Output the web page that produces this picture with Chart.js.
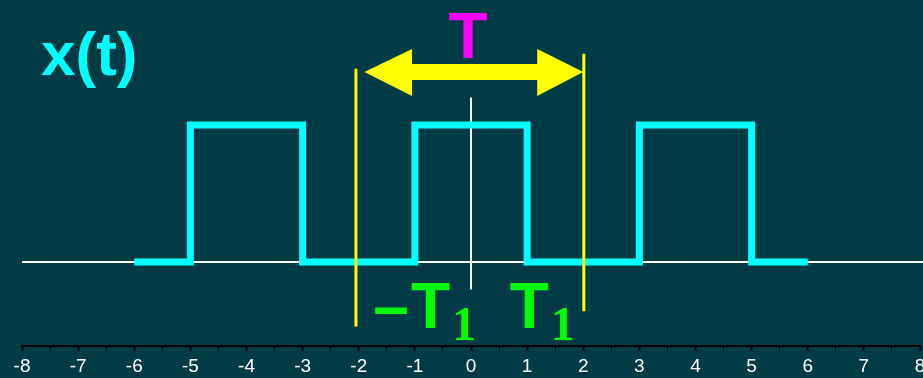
<!DOCTYPE html>
<html><head><meta charset="utf-8">
<script src="https://cdn.jsdelivr.net/npm/chart.js@4/dist/chart.umd.min.js"></script>
<style>html,body{margin:0;padding:0;background:#013b45;overflow:hidden}#wrap{width:923px;height:378px}</style>
</head><body><div id="wrap"><canvas id="c" width="923" height="378"></canvas></div>
<script>
// ---- data ----
const tickValues = [-8,-7,-6,-5,-4,-3,-2,-1,0,1,2,3,4,5,6,7,8];
const tickLabels = ['-8','-7','-6','-5','-4','-3','-2','-1','0','1','2','3','4','5','6','7','8'];
const waveX = [-6,-5,-5,-3,-3,-1,-1,1,1,3,3,5,5,6];
const waveY = [0,0,1,1,0,0,1,1,0,0,1,1,0,0];
const baselineX = [-8, 8.1];
const baselineY = [0, 0];
const originX = [0, 0];
const originY = [-0.2, 1.2];
const markLeftX = [-2.05, -2.05];
const markLeftY = [-0.47, 1.41];
const markRightX = [2.01, 2.01];
const markRightY = [-0.36, 1.52];
const arrowX = [-1.9,-1.05,-1.05,1.18,1.18,2.0,1.18,1.18,-1.05,-1.05];
const arrowY = [1.387,1.555,1.445,1.445,1.555,1.387,1.212,1.328,1.328,1.212];
const textItems = [
  {t:'x(t)', x:-7.66, y:1.365, c:'#00ffff', f:'bold 62px "Liberation Sans", Arial, sans-serif'},
  {t:'T', x:-0.40, y:1.49, c:'#ff00ff', f:'bold 64px "Liberation Sans", Arial, sans-serif'},
  {t:'\u2013', x:-1.74, y:-0.48, c:'#00ff00', f:'bold 64px "Liberation Sans", Arial, sans-serif'},
  {t:'T', x:-1.07, y:-0.48, c:'#00ff00', f:'bold 64px "Liberation Sans", Arial, sans-serif'},
  {t:'1', x:-0.34, y:-0.57, c:'#00ff00', f:'bold 48px "Liberation Serif", "Times New Roman", serif'},
  {t:'T', x:0.69, y:-0.48, c:'#00ff00', f:'bold 64px "Liberation Sans", Arial, sans-serif'},
  {t:'1', x:1.42, y:-0.57, c:'#00ff00', f:'bold 48px "Liberation Serif", "Times New Roman", serif'}
];
const zip = (xs, ys) => xs.map((x, i) => ({x, y: ys[i]}));

const bgPlugin = {
  id: 'bg',
  beforeDraw(chart) {
    const ctx = chart.ctx;
    ctx.save();
    ctx.fillStyle = '#013b45';
    ctx.fillRect(0, 0, chart.width, chart.height);
    ctx.restore();
  }
};
const overlayPlugin = {
  id: 'overlay',
  afterDatasetsDraw(chart) {
    const ctx = chart.ctx, xs = chart.scales.x, ys = chart.scales.y;
    ctx.save();
    ctx.fillStyle = '#ffff00';
    ctx.beginPath();
    arrowX.forEach((x, i) => {
      const px = xs.getPixelForValue(x), py = ys.getPixelForValue(arrowY[i]);
      if (i === 0) ctx.moveTo(px, py); else ctx.lineTo(px, py);
    });
    ctx.closePath();
    ctx.fill();
    ctx.textBaseline = 'alphabetic';
    ctx.textAlign = 'left';
    textItems.forEach(it => {
      ctx.font = it.f;
      ctx.fillStyle = it.c;
      ctx.fillText(it.t, xs.getPixelForValue(it.x), ys.getPixelForValue(it.y));
    });
    ctx.restore();
  }
};

new Chart(document.getElementById('c'), {
  type: 'scatter',
  data: {
    datasets: [
      {data: zip(markLeftX, markLeftY), showLine: true, borderColor: '#ffff00', borderWidth: 3, pointRadius: 0, order: 0, borderCapStyle: 'butt'},
      {data: zip(markRightX, markRightY), showLine: true, borderColor: '#ffff00', borderWidth: 3, pointRadius: 0, order: 0, borderCapStyle: 'butt'},
      {data: zip(waveX, waveY), showLine: true, borderColor: '#00ffff', borderWidth: 7, pointRadius: 0, order: 1, borderJoinStyle: 'miter', borderCapStyle: 'butt', tension: 0},
      {data: zip(baselineX, baselineY), showLine: true, borderColor: '#ffffff', borderWidth: 2, pointRadius: 0, order: 2, clip: false},
      {data: zip(originX, originY), showLine: true, borderColor: '#ffffff', borderWidth: 2, pointRadius: 0, order: 3}
    ]
  },
  options: {
    responsive: false,
    animation: false,
    devicePixelRatio: 1,
    layout: {padding: {left: 22, right: 3, top: 0, bottom: 0}},
    plugins: {legend: {display: false}, tooltip: {enabled: false}},
    scales: {
      x: {
        type: 'linear', min: -8, max: 8, position: 'bottom',
        border: {display: true, color: '#000000', width: 2},
        grid: {display: true, drawOnChartArea: false, drawTicks: true, tickLength: 5, color: '#000000', lineWidth: 1,
               tickWidth: (c) => (c.tick && Number.isInteger(c.tick.value)) ? 2 : 1},
        ticks: {
          stepSize: 0.5, autoSkip: false, maxRotation: 0, minRotation: 0, padding: 4,
          color: '#ffffff',
          font: {family: '"Liberation Sans Narrow", "Liberation Sans", Arial, sans-serif', size: 19},
          callback: (v) => { const i = tickValues.indexOf(v); return i >= 0 ? tickLabels[i] : ''; }
        },
        afterFit: (axis) => { axis.height = 32; axis.paddingLeft = 0; axis.paddingRight = 0; }
      },
      y: {display: false, min: -0.613, max: 1.912}
    }
  },
  plugins: [bgPlugin, overlayPlugin]
});
</script></body></html>
